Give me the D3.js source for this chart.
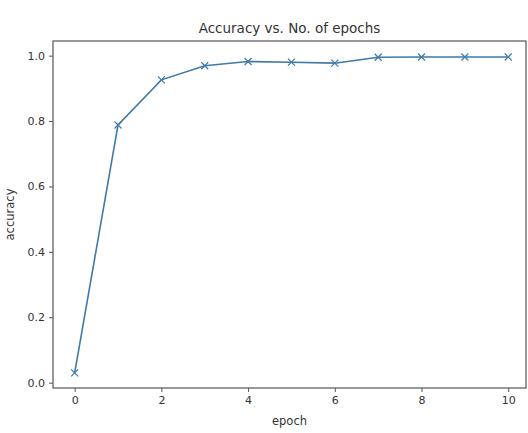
<!DOCTYPE html>
<html>
<head>
<meta charset="utf-8">
<script src="https://cdn.jsdelivr.net/npm/d3@7"></script>
<style>
  body { margin: 0; background: #fff; }
  text { font-family: "DejaVu Sans", sans-serif; fill: #333; }
</style>
</head>
<body>
<script>
// data
const epochs = [0, 1, 2, 3, 4, 5, 6, 7, 8, 9, 10];
const accuracy = [0.03, 0.788, 0.926, 0.969, 0.982, 0.98, 0.977, 0.995, 0.996, 0.996, 0.996];
const xTicks = [0, 2, 4, 6, 8, 10];
const yTicks = [0.0, 0.2, 0.4, 0.6, 0.8, 1.0];

const width = 528, height = 433;
const frame = { left: 53, right: 526, top: 41, bottom: 388 };

const svg = d3.select("body").append("svg")
  .attr("width", width)
  .attr("height", height);

// scales (matplotlib-ish margins)
const x = d3.scaleLinear().domain([-0.5, 10.41]).range([frame.left, frame.right]);
const y = d3.scaleLinear().domain([-0.0163, 1.0448]).range([frame.bottom, frame.top]);

// axes
const xAxis = d3.axisBottom(x).tickValues(xTicks).tickSize(4).tickPadding(4)
  .tickFormat(d3.format("d"));
const yAxis = d3.axisLeft(y).tickValues(yTicks).tickSize(4).tickPadding(4)
  .tickFormat(d3.format(".1f"));

const gx = svg.append("g")
  .attr("transform", `translate(0,${frame.bottom})`)
  .call(xAxis);
const gy = svg.append("g")
  .attr("transform", `translate(${frame.left},0)`)
  .call(yAxis);

[gx, gy].forEach(g => {
  g.select(".domain").remove();
  g.selectAll(".tick line").attr("stroke", "#555").attr("stroke-width", 1);
  g.selectAll(".tick text")
    .style("font-family", "DejaVu Sans, sans-serif")
    .style("font-size", "11px")
    .attr("fill", "#444");
});

// plot frame
svg.append("rect")
  .attr("x", frame.left)
  .attr("y", frame.top)
  .attr("width", frame.right - frame.left)
  .attr("height", frame.bottom - frame.top)
  .attr("fill", "none")
  .attr("stroke", "#555")
  .attr("stroke-width", 1.2);

// line
const pts = epochs.map((e, i) => [e, accuracy[i]]);
svg.append("path")
  .datum(pts)
  .attr("fill", "none")
  .attr("stroke", "#3f7aa8")
  .attr("stroke-width", 1.6)
  .attr("d", d3.line().x(d => x(d[0])).y(d => y(d[1])));

// x markers
const ms = 3.5;
svg.append("g")
  .selectAll("path")
  .data(pts)
  .enter()
  .append("path")
  .attr("d", d => {
    const cx = x(d[0]), cy = y(d[1]);
    return `M${cx - ms},${cy - ms}L${cx + ms},${cy + ms}M${cx - ms},${cy + ms}L${cx + ms},${cy - ms}`;
  })
  .attr("stroke", "#3f7aa8")
  .attr("stroke-width", 1.2);

// title and labels
svg.append("text")
  .attr("x", (frame.left + frame.right) / 2)
  .attr("y", 33)
  .attr("text-anchor", "middle")
  .style("font-size", "13.5px")
  .text("Accuracy vs. No. of epochs");

svg.append("text")
  .attr("x", (frame.left + frame.right) / 2)
  .attr("y", 425)
  .attr("text-anchor", "middle")
  .style("font-size", "11.5px")
  .text("epoch");

svg.append("text")
  .attr("transform", `translate(14,${(frame.top + frame.bottom) / 2}) rotate(-90)`)
  .attr("text-anchor", "middle")
  .style("font-size", "11.5px")
  .text("accuracy");
</script>
</body>
</html>
